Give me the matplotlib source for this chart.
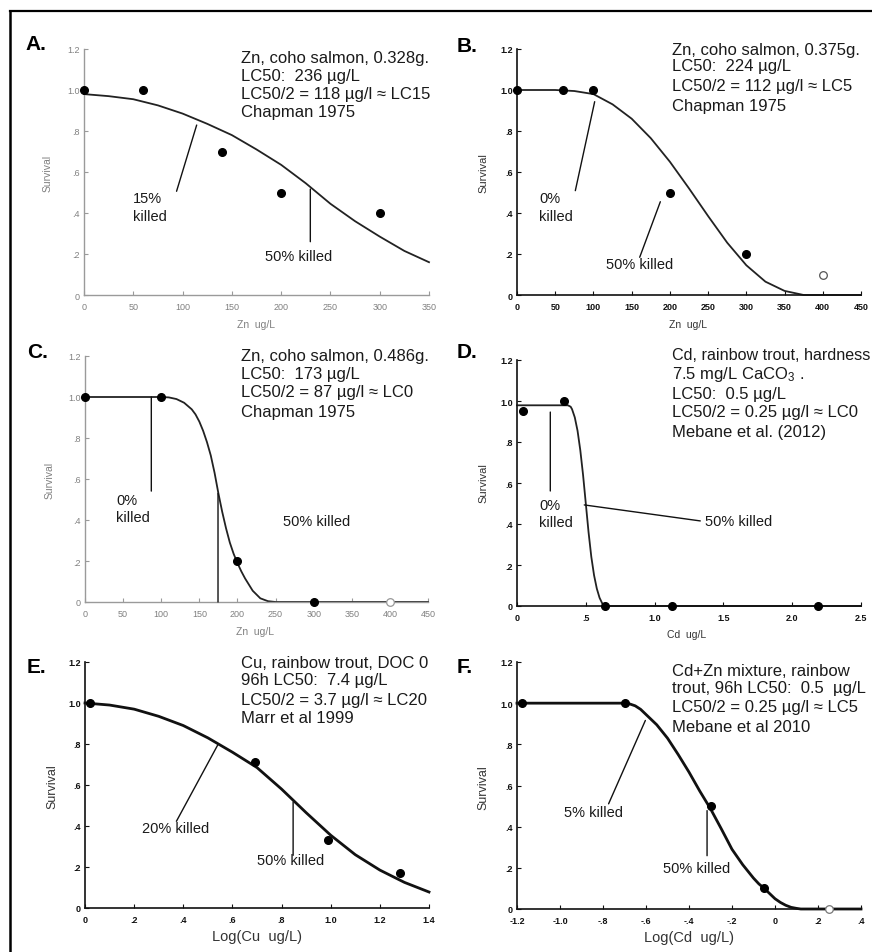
import matplotlib
matplotlib.use('Agg')
import matplotlib.pyplot as plt
from matplotlib.lines import Line2D

plt.rcParams['font.family'] = ['Liberation Sans', 'DejaVu Sans']
plt.rcParams['mathtext.fontset'] = 'custom'
plt.rcParams['mathtext.rm'] = 'Liberation Sans'
plt.rcParams['mathtext.default'] = 'regular'

W, H = 872, 953

# --- data ---
y_ticks = [0, 0.2, 0.4, 0.6, 0.8, 1.0, 1.2]
y_ticklabels = ['0', '.2', '.4', '.6', '.8', '1.0', '1.2']

# A. Zn, coho salmon 0.328 g
a_conc = [0, 60, 140, 200, 300]
a_surv = [1.0, 1.0, 0.7, 0.5, 0.4]
a_fit_x = [0, 25, 50, 75, 100, 125, 150, 175, 200, 225, 250, 275, 300, 325, 350]
a_fit_y = [0.98, 0.97, 0.955, 0.925, 0.885, 0.835, 0.78, 0.71, 0.635, 0.545,
           0.445, 0.36, 0.285, 0.215, 0.16]

# B. Zn, coho salmon 0.375 g
b_conc = [0, 60, 100, 200, 300]
b_surv = [1.0, 1.0, 1.0, 0.5, 0.2]
b_open_x = [400]
b_open_y = [0.1]
b_fit_x = [0, 50, 75, 100, 125, 150, 175, 200, 225, 250, 275, 300, 325, 350, 375, 450]
b_fit_y = [1.0, 1.0, 0.995, 0.98, 0.93, 0.86, 0.765, 0.65, 0.52, 0.385, 0.255,
           0.145, 0.065, 0.02, 0.0, 0.0]

# C. Zn, coho salmon 0.486 g
c_conc = [0, 100, 200, 300]
c_surv = [1.0, 1.0, 0.2, 0.0]
c_open_x = [400]
c_open_y = [0.0]
c_fit_x = [0, 100, 110, 120, 130, 140, 145, 150, 155, 160, 165, 170, 175, 180,
           185, 190, 195, 200, 205, 210, 220, 230, 240, 250, 450]
c_fit_y = [1.0, 1.0, 0.998, 0.99, 0.972, 0.94, 0.915, 0.88, 0.835, 0.78, 0.715,
           0.63, 0.53, 0.44, 0.36, 0.29, 0.235, 0.19, 0.15, 0.115, 0.055, 0.018,
           0.004, 0.0, 0.0]

# D. Cd, rainbow trout
d_conc = [0.04, 0.34, 0.64, 1.13, 2.19]
d_surv = [0.95, 1.0, 0.0, 0.0, 0.0]
d_fit_x = [0, 0.37, 0.39, 0.40, 0.42, 0.44, 0.46, 0.48, 0.50, 0.52, 0.54, 0.56,
           0.58, 0.60, 0.62, 0.64, 2.5]
d_fit_y = [0.979, 0.979, 0.972, 0.96, 0.92, 0.855, 0.76, 0.64, 0.5, 0.36, 0.24,
           0.15, 0.085, 0.04, 0.012, 0.0, 0.0]

# E. Cu, rainbow trout (log conc)
e_logc = [0.02, 0.69, 0.99, 1.28]
e_surv = [1.0, 0.71, 0.33, 0.17]
e_fit_x = [0, 0.1, 0.2, 0.3, 0.4, 0.5, 0.6, 0.7, 0.8, 0.9, 1.0, 1.1, 1.2, 1.3, 1.4]
e_fit_y = [1.0, 0.99, 0.97, 0.935, 0.89, 0.83, 0.76, 0.685, 0.58, 0.465, 0.355,
           0.26, 0.185, 0.125, 0.078]

# F. Cd+Zn mixture (log conc)
f_logc = [-1.175, -0.7, -0.3, -0.05]
f_surv = [1.0, 1.0, 0.5, 0.1]
f_open_x = [0.25]
f_open_y = [0.0]
f_fit_x = [-1.2, -0.7, -0.675, -0.65, -0.625, -0.6, -0.55, -0.5, -0.45, -0.4,
           -0.35, -0.3, -0.25, -0.2, -0.15, -0.1, -0.075, -0.05, -0.025, 0.0,
           0.025, 0.05, 0.075, 0.1, 0.12, 0.4]
f_fit_y = [1.0, 1.0, 0.996, 0.987, 0.97, 0.945, 0.895, 0.83, 0.75, 0.665, 0.573,
           0.487, 0.39, 0.29, 0.215, 0.15, 0.122, 0.1, 0.075, 0.05, 0.032, 0.018,
           0.008, 0.003, 0.0, 0.0]

notes = {
    'A': ['Zn, coho salmon, 0.328g.', 'LC50:  236 µg/L',
          'LC50/2 = 118 µg/l ≈ LC15', 'Chapman 1975'],
    'B': ['Zn, coho salmon, 0.375g.', 'LC50:  224 µg/L',
          'LC50/2 = 112 µg/l ≈ LC5', 'Chapman 1975'],
    'C': ['Zn, coho salmon, 0.486g.', 'LC50:  173 µg/L',
          'LC50/2 = 87 µg/l ≈ LC0', 'Chapman 1975'],
    'D': ['Cd, rainbow trout, hardness', '7.5 mg/L CaCO$_3$ .', 'LC50:  0.5 µg/L',
          'LC50/2 = 0.25 µg/l ≈ LC0', 'Mebane et al. (2012)'],
    'E': ['Cu, rainbow trout, DOC 0', '96h LC50:  7.4 µg/L',
          'LC50/2 = 3.7 µg/l ≈ LC20', 'Marr et al 1999'],
    'F': ['Cd+Zn mixture, rainbow', 'trout, 96h LC50:  0.5  µg/L',
          'LC50/2 = 0.25 µg/l ≈ LC5', 'Mebane et al 2010'],
}

fig = plt.figure(figsize=(W / 100, H / 100), dpi=100)


def px(x, y):
    return x / W, 1 - y / H


def ftext(x, y, s, **kw):
    fx, fy = px(x, y)
    return fig.text(fx, fy, s, **kw)


def make_axes(box, xlim, xticks, xticklabels, gray=False):
    x0, y0, x1, y1 = box
    ax = fig.add_axes([x0 / W, 1 - y1 / H, (x1 - x0) / W, (y1 - y0) / H])
    ax.set_xlim(*xlim)
    ax.set_ylim(0, 1.2)
    for s in ['top', 'right']:
        ax.spines[s].set_visible(False)
    col = '#9a9a9a' if gray else '#111111'
    lcol = '#808080' if gray else '#111111'
    for s in ['left', 'bottom']:
        ax.spines[s].set_color(col)
        ax.spines[s].set_linewidth(1.0 if gray else 1.2)
    ax.set_xticks(xticks)
    ax.set_xticklabels(xticklabels)
    ax.set_yticks(y_ticks)
    ax.set_yticklabels(y_ticklabels)
    ax.tick_params(direction='in', length=3, width=0.8, color=col,
                   labelcolor=lcol, labelsize=6.5)
    ax.tick_params(axis='x', pad=5)
    ax.tick_params(axis='y', pad=3)
    if not gray:
        for t in ax.get_xticklabels() + ax.get_yticklabels():
            t.set_fontweight('bold')
    return ax


def leader(ax, p0, p1, lw=1.0):
    ax.annotate('', xy=p1, xytext=p0,
                arrowprops=dict(arrowstyle='-', color='#111111', lw=lw,
                                shrinkA=0, shrinkB=0))


def label(x, y, s, size=10.5):
    ftext(x, y, s, ha='left', va='center', fontsize=size, color='#1a1a1a')


def header(x, ys, lines, sizes=None):
    for i, (yy, s) in enumerate(zip(ys, lines)):
        sz = sizes[i] if sizes else 12
        ftext(x, yy, s, ha='left', va='center', fontsize=sz, color='#1a1a1a')


dot = dict(ls='none', marker='o', color='black', ms=5.5, zorder=5, clip_on=False)
opn = dict(ls='none', marker='o', mfc='white', mec='#555555', mew=0.9, ms=5.5,
           zorder=5, clip_on=False)
fit = dict(color='#222222', lw=1.3, clip_on=False, solid_joinstyle='round')

# ---- A ----
ax = make_axes((84, 50, 429, 296), (0, 350), range(0, 351, 50),
               [str(v) for v in range(0, 351, 50)], gray=True)
ax.plot(a_fit_x, a_fit_y, **fit)
ax.plot(a_conc, a_surv, **dot)
leader(ax, (93.9, 0.506), (114.3, 0.829))
leader(ax, (229.6, 0.26), (229.6, 0.517))

# ---- B ----
ax = make_axes((517, 50, 861, 296), (0, 450), range(0, 451, 50),
               [str(v) for v in range(0, 451, 50)])
ax.plot(b_fit_x, b_fit_y, **fit)
ax.plot(b_conc, b_surv, **dot)
ax.plot(b_open_x, b_open_y, **opn)
leader(ax, (76.3, 0.509), (101.6, 0.943))
leader(ax, (160.5, 0.184), (187.5, 0.455))

# ---- C ----
ax = make_axes((85, 357, 428, 603), (0, 450), range(0, 451, 50),
               [str(v) for v in range(0, 451, 50)], gray=True)
ax.plot(c_fit_x, c_fit_y, **fit)
ax.plot(c_conc, c_surv, **dot)
ax.plot(c_open_x, c_open_y, **dict(opn, mec='#999999'))
leader(ax, (87.0, 0.541), (87.0, 1.0))
leader(ax, (174.5, 0.0), (174.5, 0.53))

# ---- D ----
ax = make_axes((517, 361, 861, 607), (0, 2.5), [0, 0.5, 1.0, 1.5, 2.0, 2.5],
               ['0', '.5', '1.0', '1.5', '2.0', '2.5'])
ax.plot(d_fit_x, d_fit_y, **fit)
ax.plot(d_conc, d_surv, **dot)
leader(ax, (0.242, 0.561), (0.242, 0.946))
leader(ax, (1.332, 0.415), (0.489, 0.493))

# ---- E ----
ax = make_axes((85, 663, 429, 909), (0, 1.4), [0, 0.2, 0.4, 0.6, 0.8, 1.0, 1.2, 1.4],
               ['0', '.2', '.4', '.6', '.8', '1.0', '1.2', '1.4'])
ax.plot(e_fit_x, e_fit_y, **dict(fit, color='#111111', lw=2.0))
ax.plot(e_logc, e_surv, **dot)
leader(ax, (0.372, 0.423), (0.541, 0.797))
leader(ax, (0.847, 0.257), (0.847, 0.517))

# ---- F ----
ax = make_axes((517, 663, 861, 910), (-1.2, 0.4),
               [-1.2, -1.0, -0.8, -0.6, -0.4, -0.2, 0, 0.2, 0.4],
               ['-1.2', '-1.0', '-.8', '-.6', '-.4', '-.2', '0', '.2', '.4'])
ax.plot(f_fit_x, f_fit_y, **dict(fit, color='#111111', lw=2.0))
ax.plot(f_logc, f_surv, **dot)
ax.plot(f_open_x, f_open_y, **dict(opn, mec='#777777'))
leader(ax, (-0.774, 0.511), (-0.603, 0.916))
leader(ax, (-0.316, 0.259), (-0.316, 0.478))

# ---- panel letters, notes, labels ----
for let, (x, y) in {'A': (25, 45), 'B': (457, 46), 'C': (27, 353),
                    'D': (457, 353), 'E': (27, 668), 'F': (457, 668)}.items():
    ftext(x, y, let + '.', ha='left', va='center', fontsize=15, fontweight='bold')

header(241, [58, 76, 94, 113], notes['A'])
header(672, [50, 67, 87, 106], notes['B'])
header(241, [357, 374, 393, 413], notes['C'])
header(672, [356, 375, 394, 413, 433], notes['D'], sizes=[11.6, 12, 12, 12, 12])
header(241, [663, 680, 700, 719], notes['E'])
header(672, [671, 689, 708, 727], notes['F'])

label(133, 199, '15%'); label(133, 217, 'killed')
label(265, 257, '50% killed')
label(539, 199, '0%'); label(539, 217, 'killed')
label(606, 265, '50% killed')
label(116, 501, '0%'); label(116, 518, 'killed')
label(283, 522, '50% killed')
label(539, 506, '0%'); label(539, 523, 'killed')
label(705, 522, '50% killed')
label(142, 829, '20% killed')
label(257, 861, '50% killed')
label(564, 813, '5% killed')
label(663, 869, '50% killed')

# axis titles
for x, y, c, sz in [(48, 173, '#808080', 7.5), (483, 173, '#333333', 8),
                    (50, 480, '#808080', 7.5), (483, 483, '#333333', 8),
                    (52, 787, '#333333', 9), (483, 788, '#333333', 9)]:
    ftext(x, y, 'Survival', rotation=90, ha='center', va='center', fontsize=sz, color=c)

ftext(256, 325, 'Zn  ug/L', ha='center', va='center', fontsize=7.5, color='#808080')
ftext(688, 325, 'Zn  ug/L', ha='center', va='center', fontsize=7.5, color='#333333')
ftext(255, 632, 'Zn  ug/L', ha='center', va='center', fontsize=7.5, color='#808080')
ftext(687, 635, 'Cd  ug/L', ha='center', va='center', fontsize=7.5, color='#333333')
ftext(257, 937, 'Log(Cu  ug/L)', ha='center', va='center', fontsize=10.5, color='#333333')
ftext(689, 938, 'Log(Cd  ug/L)', ha='center', va='center', fontsize=10.5, color='#333333')

# frame lines (top and left)
fig.add_artist(Line2D([9.5 / W, 1], [1 - 12 / H, 1 - 12 / H], color='black', lw=1.6))
fig.add_artist(Line2D([10 / W, 10 / W], [0, 1 - 11.5 / H], color='black', lw=1.8))

fig.savefig('out.png', dpi=100)
